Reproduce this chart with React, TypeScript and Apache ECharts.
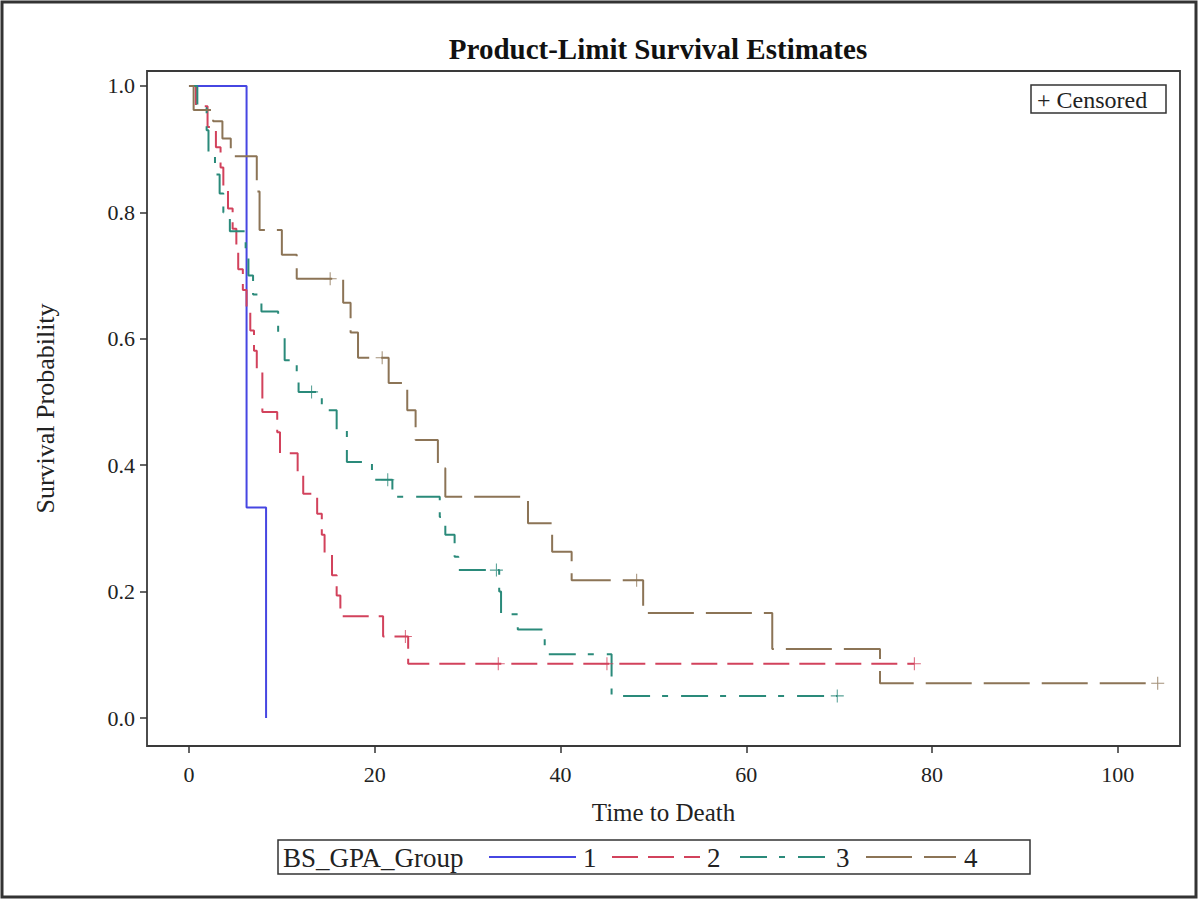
import React, { useEffect, useRef } from "react";
import * as echarts from "echarts";

const SERIF = "'Liberation Serif', 'Times New Roman', serif";

// tick labels
const xTicks = [0, 20, 40, 60, 80, 100];
const yTicks = [0, 0.2, 0.4, 0.6, 0.8, 1.0];

// group labels
const groupNames = ["1", "2", "3", "4"];

// Group 1 (Kaplan-Meier steps)
const g1Time = [0, 6.2, 8.3];
const g1Surv = [1, 0.333, 0];
const g1CensTime: number[] = [];
const g1CensSurv: number[] = [];

// Group 2
const g2Time = [0, 0.75, 2.0, 2.9, 3.4, 3.7, 4.2, 4.7, 5.1, 5.3, 5.8, 6.2, 6.6, 7.0, 7.3, 7.9, 9.5, 9.8, 11.7, 12.3, 13.8, 14.3, 14.6, 15.4, 15.9, 16.3, 20.9, 23.6, 78.1];
const g2Surv = [1, 0.968, 0.935, 0.903, 0.871, 0.839, 0.806, 0.774, 0.742, 0.71, 0.677, 0.645, 0.613, 0.581, 0.548, 0.484, 0.452, 0.419, 0.387, 0.355, 0.323, 0.29, 0.258, 0.226, 0.194, 0.161, 0.129, 0.086, 0.086];
const g2CensTime = [23.3, 33.3, 45.0, 78.1];
const g2CensSurv = [0.129, 0.086, 0.086, 0.086];

// Group 3
const g3Time = [0, 0.9, 1.9, 2.1, 2.8, 3.3, 3.7, 4.4, 6.1, 6.4, 6.9, 7.8, 9.6, 10.3, 11.6, 11.8, 14.3, 15.9, 17.0, 19.7, 21.9, 27.0, 27.6, 28.6, 29.0, 33.4, 33.6, 35.4, 38.3, 45.5, 69.8];
const g3Surv = [1, 0.965, 0.93, 0.895, 0.86, 0.83, 0.8, 0.77, 0.735, 0.7, 0.67, 0.643, 0.605, 0.566, 0.54, 0.516, 0.487, 0.455, 0.405, 0.377, 0.35, 0.318, 0.29, 0.255, 0.234, 0.2, 0.164, 0.14, 0.101, 0.035, 0.035];
const g3CensTime = [13.2, 21.4, 33.1, 69.8];
const g3CensSurv = [0.516, 0.377, 0.234, 0.035];

// Group 4
const g4Time = [0, 0.5, 2.6, 3.6, 4.5, 7.3, 7.6, 10.0, 11.6, 16.6, 17.4, 18.2, 21.5, 23.5, 24.4, 26.8, 27.6, 36.5, 39.1, 41.2, 48.9, 62.8, 74.4, 104.3];
const g4Surv = [1, 0.962, 0.944, 0.917, 0.889, 0.833, 0.772, 0.733, 0.695, 0.657, 0.61, 0.57, 0.53, 0.487, 0.44, 0.395, 0.35, 0.308, 0.263, 0.218, 0.166, 0.109, 0.055, 0.055];
const g4CensTime = [15.2, 20.8, 48.2, 104.3];
const g4CensSurv = [0.695, 0.57, 0.218, 0.055];

const colors = ["#4646e2", "#d2425c", "#2a8a7a", "#8c7456"];
const dashes: any[] = ["solid", [26, 10], [27, 12, 6, 13], [46, 12]];

const PLUS = "path://M-1,-0.08L1,-0.08L1,0.08L-1,0.08Z M-0.08,-1L0.08,-1L0.08,1L-0.08,1Z";

const zip = (a: number[], b: number[]) => a.map((v, i) => [v, b[i]]);

export default function App() {
  const ref = useRef<HTMLDivElement>(null);
  useEffect(() => {
    if (!ref.current) return;
    const chart = echarts.init(ref.current, null, { renderer: "svg" });
    const times = [g1Time, g2Time, g3Time, g4Time];
    const survs = [g1Surv, g2Surv, g3Surv, g4Surv];
    const cT = [g1CensTime, g2CensTime, g3CensTime, g4CensTime];
    const cS = [g1CensSurv, g2CensSurv, g3CensSurv, g4CensSurv];
    const series: any[] = [];
    for (let i = 0; i < 4; i++) {
      series.push({
        name: groupNames[i],
        type: "line",
        step: "end",
        data: zip(times[i], survs[i]),
        showSymbol: false,
        lineStyle: { color: colors[i], width: 2, type: dashes[i] },
        z: 3,
      });
      series.push({
        name: groupNames[i] + " censored",
        type: "scatter",
        data: zip(cT[i], cS[i]),
        symbol: PLUS,
        symbolSize: 13,
        itemStyle: { color: colors[i] },
        z: 4,
      });
    }
    const textStyle = { fontFamily: SERIF, fill: "#222" };
    const legY = 857;
    const legItems = [
      { x1: 489, x2: 576, tx: 583 },
      { x1: 612, x2: 700, tx: 707 },
      { x1: 740, x2: 828, tx: 836 },
      { x1: 866, x2: 956, tx: 964 },
    ];
    const graphic: any[] = [
      { type: "rect", shape: { x: 2, y: 2, width: 1194, height: 895 }, style: { fill: "none", stroke: "#333", lineWidth: 3 }, silent: true },
      { type: "rect", shape: { x: 1031, y: 85, width: 135, height: 28 }, style: { fill: "#fff", stroke: "#333", lineWidth: 1.5 }, z: 10 },
      { type: "text", x: 1037, y: 100, style: { ...textStyle, text: "+ Censored", fontSize: 24, verticalAlign: "middle" }, z: 11 },
      { type: "rect", shape: { x: 278, y: 840, width: 752, height: 34 }, style: { fill: "#fff", stroke: "#333", lineWidth: 1.5 }, z: 10 },
      { type: "text", x: 283, y: legY + 1, style: { ...textStyle, text: "BS_GPA_Group", fontSize: 27, verticalAlign: "middle" }, z: 11 },
    ];
    legItems.forEach((it, i) => {
      graphic.push({
        type: "line",
        shape: { x1: it.x1, y1: legY, x2: it.x2, y2: legY },
        style: { stroke: colors[i], lineWidth: 2, lineDash: i === 0 ? null : dashes[i] },
        z: 11,
      });
      graphic.push({
        type: "text",
        x: it.tx,
        y: legY + 1,
        style: { ...textStyle, text: groupNames[i], fontSize: 27, verticalAlign: "middle" },
        z: 11,
      });
    });
    chart.setOption({
      animation: false,
      backgroundColor: "#fff",
      title: {
        text: "Product-Limit Survival Estimates",
        left: 653,
        top: 29,
        textAlign: "center",
        textStyle: { fontFamily: SERIF, fontSize: 29, fontWeight: "bold", color: "#111" },
      },
      grid: { left: 147, top: 71, right: 20, bottom: 156, show: true, borderColor: "#3a3a3a", borderWidth: 1.8 },
      xAxis: {
        type: "value",
        min: -4.52,
        max: 106.7,
        name: "Time to Death",
        nameLocation: "middle",
        nameGap: 54,
        nameTextStyle: { fontFamily: SERIF, fontSize: 25, color: "#222" },
        axisLine: { show: false, onZero: false },
        axisTick: { show: true, length: 7, customValues: xTicks, lineStyle: { color: "#333", width: 1.5 } },
        axisLabel: { customValues: xTicks, fontFamily: SERIF, fontSize: 22, color: "#222", margin: 17 },
        splitLine: { show: false },
      },
      yAxis: {
        type: "value",
        min: -0.0443,
        max: 1.0237,
        name: "Survival Probability",
        nameLocation: "middle",
        nameGap: 89,
        nameTextStyle: { fontFamily: SERIF, fontSize: 26, color: "#222" },
        axisLine: { show: false, onZero: false },
        axisTick: { show: true, length: 7, customValues: yTicks, lineStyle: { color: "#333", width: 1.5 } },
        axisLabel: {
          customValues: yTicks,
          fontFamily: SERIF,
          fontSize: 22,
          color: "#222",
          margin: 12,
          formatter: (v: number) => v.toFixed(1),
        },
        splitLine: { show: false },
      },
      series,
      graphic,
    });
    return () => chart.dispose();
  }, []);
  return <div ref={ref} style={{ position: "absolute", left: 0, top: 0, width: 1200, height: 902 }} />;
}
